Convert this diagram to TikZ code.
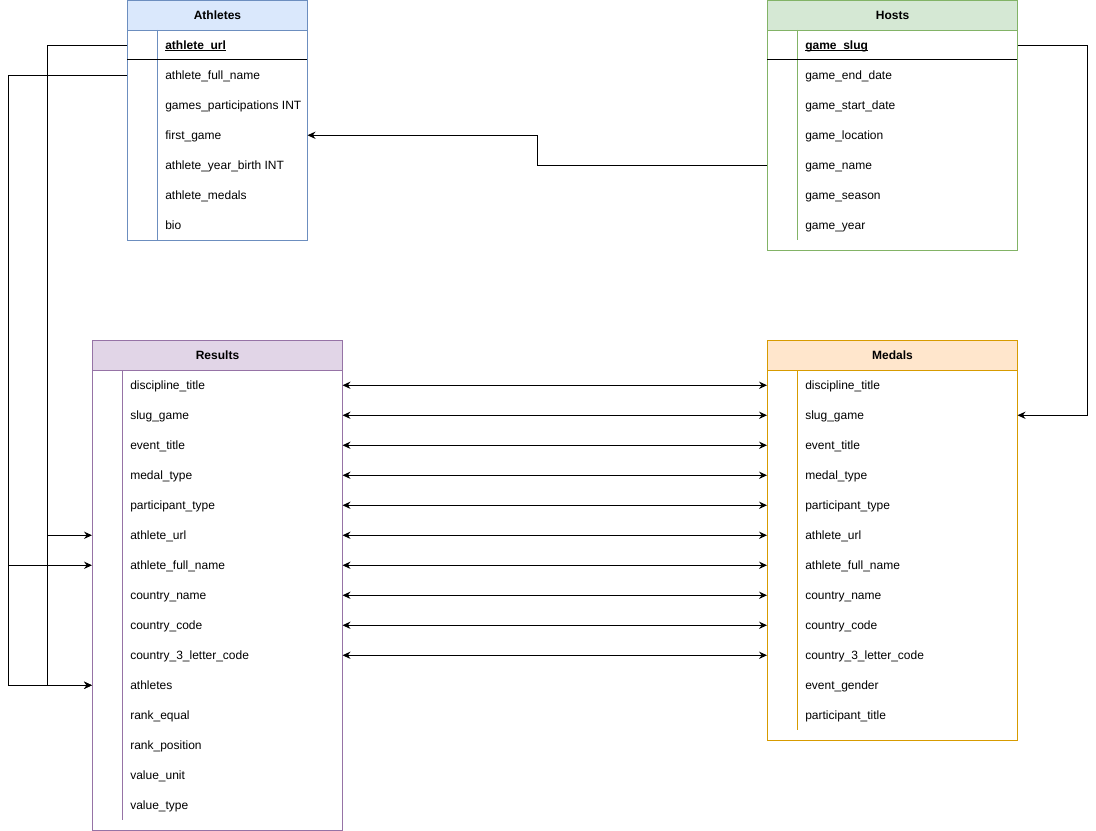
\documentclass[tikz,border=0pt]{standalone}
\usepackage{fontspec}
\setmainfont{Liberation Sans}
\usetikzlibrary{arrows.meta}
\definecolor{blueF}{HTML}{DAE8FC}\definecolor{blueD}{HTML}{6C8EBF}
\definecolor{greenF}{HTML}{D5E8D4}\definecolor{greenD}{HTML}{82B366}
\definecolor{purpF}{HTML}{E1D5E7}\definecolor{purpD}{HTML}{9673A6}
\definecolor{oranF}{HTML}{FFE6CC}\definecolor{oranD}{HTML}{D79B00}
\newcommand\keyul[1]{\setbox0\hbox{\bfseries #1}\rlap{\rule[-1.3pt]{\wd0}{0.6pt}}\box0}
\tikzset{
  tblbox/.style={draw=#1, line width=0.75pt, anchor=north west, inner sep=0pt},
  hdrbox/.style={draw=#1, line width=0.75pt, anchor=north west, inner sep=0pt,
    minimum height=22.5pt, font=\fontsize{9}{11}\selectfont\bfseries},
  rowbox/.style={anchor=north west, minimum height=22.5pt, inner sep=0pt},
  fld/.style={anchor=base west, inner sep=0pt, font=\fontsize{9}{11}\selectfont},
  conn/.style={line width=0.75pt, -{Stealth[length=6pt,width=5.5pt,inset=2pt]}},
  conn2/.style={line width=0.75pt, {Stealth[length=6pt,width=5.5pt,inset=2pt]}-{Stealth[length=6pt,width=5.5pt,inset=2pt]}},
}
\begin{document}
\begin{tikzpicture}[x=0.75pt,y=-0.75pt]
\useasboundingbox (0,0) rectangle (1096,831);

% ---------- Athletes ----------
\node[tblbox=blueD, minimum width=135pt, minimum height=180pt] (ath) at (127,0) {};
\node[hdrbox=blueD, fill=blueF, minimum width=135pt] (ath-h) at (127,0) {Athletes};
\foreach \t [count=\i] in {{\keyul{athlete\_url}},athlete\_full\_name,games\_participations INT,first\_game,athlete\_year\_birth INT,athlete\_medals,bio}{
  \node[rowbox, minimum width=135pt] (ath-\i) at (127,{30+30*(\i-1)}) {};
  \node[fld] (ath-t\i) at ([xshift=28.5pt,yshift=-3.2pt]ath-\i.west) {\t};
}
\draw[blueD, line width=0.75pt] (157,30) -- (157,240);
\draw[line width=0.75pt] (127,60) -- (307,60);

% ---------- Hosts ----------
\node[tblbox=greenD, minimum width=187.5pt, minimum height=187.5pt] (hst) at (767,0) {};
\node[hdrbox=greenD, fill=greenF, minimum width=187.5pt] (hst-h) at (767,0) {Hosts};
\foreach \t [count=\i] in {{\keyul{game\_slug}},game\_end\_date,game\_start\_date,game\_location,game\_name,game\_season,game\_year}{
  \node[rowbox, minimum width=187.5pt] (hst-\i) at (767,{30+30*(\i-1)}) {};
  \node[fld] (hst-t\i) at ([xshift=28.5pt,yshift=-3.2pt]hst-\i.west) {\t};
}
\draw[greenD, line width=0.75pt] (797,30) -- (797,240);
\draw[line width=0.75pt] (767,60) -- (1017,60);

% ---------- Results ----------
\node[tblbox=purpD, minimum width=187.5pt, minimum height=367.5pt] (res) at (92,340) {};
\node[hdrbox=purpD, fill=purpF, minimum width=187.5pt] (res-h) at (92,340) {Results};
\foreach \t [count=\i] in {discipline\_title,slug\_game,event\_title,medal\_type,participant\_type,athlete\_url,athlete\_full\_name,country\_name,country\_code,country\_3\_letter\_code,athletes,rank\_equal,rank\_position,value\_unit,value\_type}{
  \node[rowbox, minimum width=187.5pt] (res-\i) at (92,{370+30*(\i-1)}) {};
  \node[fld] (res-t\i) at ([xshift=28.5pt,yshift=-3.2pt]res-\i.west) {\t};
}
\draw[purpD, line width=0.75pt] (122,370) -- (122,820);

% ---------- Medals ----------
\node[tblbox=oranD, minimum width=187.5pt, minimum height=300pt] (med) at (767,340) {};
\node[hdrbox=oranD, fill=oranF, minimum width=187.5pt] (med-h) at (767,340) {Medals};
\foreach \t [count=\i] in {discipline\_title,slug\_game,event\_title,medal\_type,participant\_type,athlete\_url,athlete\_full\_name,country\_name,country\_code,country\_3\_letter\_code,event\_gender,participant\_title}{
  \node[rowbox, minimum width=187.5pt] (med-\i) at (767,{370+30*(\i-1)}) {};
  \node[fld] (med-t\i) at ([xshift=28.5pt,yshift=-3.2pt]med-\i.west) {\t};
}
\draw[oranD, line width=0.75pt] (797,370) -- (797,730);

% ---------- Connectors ----------
\draw[conn] (ath-1.west) -- ++(-80,0) |- (res-6.west);
\draw[conn] (ath-1.west) -- ++(-80,0) |- (res-11.west);
\draw[conn] (ath-2.west) -- ++(-119,0) |- (res-7.west);
\draw[conn] (ath-2.west) -- ++(-119,0) |- (res-11.west);
\draw[conn] (hst-5.west) -- ++(-230,0) |- (ath-4.east);
\draw[conn] (hst-1.east) -- ++(70,0) |- (med-2.east);
\foreach \i in {1,...,10}{
  \draw[conn2] (res-\i.east) -- (med-\i.west);
}
\end{tikzpicture}
\end{document}
